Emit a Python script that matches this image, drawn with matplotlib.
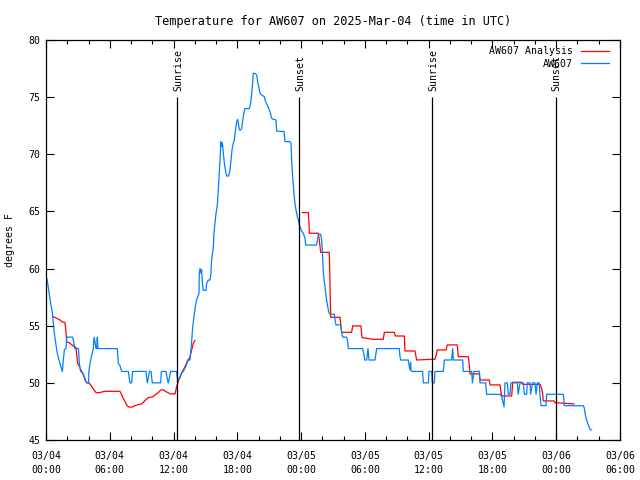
import numpy as np
import matplotlib
matplotlib.use("Agg")
import matplotlib.pyplot as plt

# hours since 2025-03-04 00:00 UTC
blue_hours = [0.10, 0.38, 0.60, 0.75, 0.91, 1.06, 1.25, 1.41, 1.54, 1.63, 1.73, 1.88, 1.95, 2.48, 2.57,
              2.70, 2.95, 3.05, 3.14, 3.25, 3.45, 3.60, 3.83, 4.01, 4.03, 4.14, 4.30, 4.45, 4.52, 4.61,
              4.70, 4.77, 4.83, 4.88, 6.71, 6.80, 6.96, 7.12, 7.74, 7.84, 7.90, 8.06, 8.15, 9.41, 9.53,
              9.62, 9.72, 9.88, 9.95, 10.00, 10.79, 10.85, 11.29, 11.40, 11.50, 11.60, 11.73, 12.29,
              12.35, 12.60, 12.75, 12.92, 13.23, 13.30, 13.55, 13.70, 13.80, 13.92, 14.05, 14.17, 14.39,
              14.42, 14.49, 14.58, 14.64, 14.71, 14.80, 15.05, 15.11, 15.27, 15.43, 15.52, 15.58, 15.74,
              15.80, 15.90, 15.99, 16.12, 16.21, 16.31, 16.37, 16.46, 16.53, 16.59, 16.68, 16.78, 16.90,
              17.00, 17.18, 17.31, 17.40, 17.50, 17.62, 17.72, 17.81, 17.94, 18.03, 18.13, 18.19, 18.31,
              18.41, 18.50, 18.63, 18.72, 19.13, 19.25, 19.35, 19.44, 19.50, 19.66, 19.82, 19.91, 20.01,
              20.13, 20.29, 20.54, 20.66, 20.82, 20.95, 21.07, 21.23, 21.39, 21.64, 21.70, 22.01, 22.39,
              22.48, 22.95, 23.05, 23.11, 23.20, 23.33, 23.42, 23.52, 23.64, 23.74, 23.83, 23.96, 24.08,
              24.21, 24.36, 24.43, 25.46, 25.53, 25.62, 25.84, 25.93, 26.00, 26.03, 26.09, 26.18, 26.25,
              26.31, 26.40, 26.50, 26.56, 26.65, 26.78, 27.12, 27.19, 27.28, 27.72, 27.81, 27.91, 28.29,
              28.38, 28.44, 29.79, 29.92, 29.98, 30.17, 30.29, 30.39, 30.95, 31.05, 31.11, 33.24, 33.30,
              33.37, 34.08, 34.15, 34.24, 34.30, 34.34, 34.40, 35.43, 35.50, 35.97, 36.03, 36.28, 36.34,
              36.53, 36.59, 37.38, 37.47, 38.16, 38.26, 38.32, 39.20, 39.26, 40.05, 40.11, 40.20, 40.26,
              40.77, 40.83, 41.36, 41.45, 42.71, 42.87, 43.09, 43.18, 43.40, 43.49, 43.65, 43.74, 44.34,
              44.43, 44.59, 44.90, 45.00, 45.22, 45.28, 45.53, 45.59, 45.78, 46.00, 46.10, 46.22, 46.41,
              46.47, 46.57, 47.04, 47.10, 48.67, 48.76, 50.55, 50.64, 50.77, 50.86, 50.96, 51.08, 51.18,
              51.33]
blue_temps = [59.1, 57.3, 56.1, 54.6, 53.5, 52.6, 51.9, 51.4, 51.0, 52.0, 52.9, 53.0, 54.0, 54.0, 53.75,
              53.0, 53.0, 53.0, 51.7, 51.0, 50.9, 50.5, 50.0, 50.0, 51.0, 51.7, 52.4, 53.0, 54.0, 53.6,
              53.0, 53.0, 54.0, 53.0, 53.0, 51.7, 51.5, 51.0, 51.0, 50.4, 50.0, 50.0, 51.0, 51.0, 50.0,
              50.4, 51.0, 51.0, 50.4, 50.0, 50.0, 51.0, 51.0, 50.4, 50.0, 50.4, 51.0, 51.0,
              50.4, 50.4, 50.9, 51.0, 51.6, 52.0, 52.0, 53.6, 54.9, 55.8, 56.7, 57.3, 57.8,
              59.6, 60.0, 59.6, 59.9, 58.7, 58.1, 58.1, 58.7, 59.0, 59.0, 59.6, 60.75, 61.9,
              63.1, 64.0, 64.8, 65.6, 66.9, 68.5, 69.5, 71.1, 70.7, 71.0, 70.1, 69.2, 68.5,
              68.1, 68.1, 68.6, 69.5, 70.4, 71.0, 71.25, 72.0, 72.85, 73.06, 72.56, 72.13, 72.13,
              72.27, 72.85, 73.73, 74.0, 74.0, 74.46, 75.33, 76.21, 77.08, 77.08, 76.94, 76.35, 75.92,
              75.33, 75.19, 75.04, 74.6, 74.31, 74.02, 73.73, 73.15, 73.06, 73.0, 72.04, 72.0, 72.0,
              71.11, 71.11, 71.0, 69.5, 68.04, 66.59, 65.71, 65.13, 64.54, 64.25, 63.81, 63.52, 63.23,
              63.09, 62.65, 62.06, 62.06, 62.5, 63.0, 63.0, 62.5, 61.63, 60.75, 59.59, 58.86, 58.42,
              57.84, 57.25, 56.67, 56.38, 56.09, 56.0, 56.0, 55.5, 55.07, 55.07, 54.48, 54.0, 54.0,
              53.61, 53.0, 53.0, 52.44, 52.0, 52.0, 53.0, 52.0, 52.0, 52.6, 53.0, 53.0, 52.3,
              52.0, 52.0, 51.57, 51.13, 51.8, 51.1, 51.0, 51.0, 50.0, 50.0, 51.0, 51.0, 50.0,
              50.0, 51.0, 51.0, 52.0, 52.0, 53.0, 52.0, 52.0, 51.0, 51.0, 50.0, 50.55, 51.0,
              51.0, 50.0, 50.0, 49.0, 49.0, 48.8, 47.9, 50.0, 50.0, 49.0, 49.0, 50.0, 50.0,
              49.0, 50.0, 50.0, 49.0, 49.0, 50.0, 50.0, 49.0, 50.0, 50.0, 49.0, 50.0, 50.0,
              49.0, 48.0, 48.0, 49.0, 49.0, 48.0, 48.0, 47.8, 47.05, 46.75, 46.46, 46.17, 45.94,
              45.88]

red_hours = [0.69, 1.00, 1.32, 1.47, 1.79, 1.88, 1.94, 2.26, 2.57, 2.82, 2.89, 2.98, 3.14, 3.36, 3.51,
             3.67, 3.83, 4.08, 4.30, 4.52, 4.70, 5.08, 5.24, 5.55, 6.96, 7.12, 7.27, 7.43, 7.59, 7.75,
             8.15, 8.37, 8.69, 9.00, 9.31, 9.63, 10.03, 10.25, 10.57, 10.79, 11.04, 11.35, 11.73, 12.14,
             12.29, 12.45, 12.61, 12.92, 13.23, 13.55, 13.70, 13.86, 14.02, np.nan,
             24.11, 24.68, 24.74, 24.77, 25.62, 25.71, 25.84, 26.65, 26.72, 26.78, 27.66, 27.75, 27.81,
             28.75, 28.85, 29.63, 29.73, 30.79, 31.73, 31.83, 32.77, 32.86, 33.71, 33.77, 34.71, 34.80,
             34.87, 36.28, 36.59, 36.75, 36.81, 37.63, 37.75, 38.69, 38.79, 39.73, 39.82, 39.89, 40.77,
             40.83, 41.71, 41.77, 42.71, 42.80, 42.87, 43.81, 43.91, 44.75, 44.85, 46.47, 46.63, 46.72,
             46.78, 47.79, 47.88, 49.67]
red_temps = [55.79, 55.65, 55.50, 55.36, 55.27, 54.48, 53.61, 53.46, 53.23, 53.11, 52.44, 51.71, 51.42,
             50.98, 50.69, 50.25, 50.02, 49.96, 49.67, 49.38, 49.15, 49.15, 49.20, 49.26, 49.26, 48.94,
             48.65, 48.36, 48.07, 47.89, 47.89, 48.01, 48.10, 48.15, 48.45, 48.71, 48.77, 48.94, 49.15,
             49.38, 49.38, 49.20, 49.03, 49.03, 49.67, 50.11, 50.55, 51.13, 51.71, 52.30, 52.88, 53.46,
             53.70, np.nan,
             64.9, 64.9, 64.0, 63.09, 63.09, 62.5, 61.42, 61.42, 58.57, 55.74, 55.74, 54.92, 54.42,
             54.42, 54.98, 54.98, 53.96, 53.81, 53.81, 54.42, 54.42, 54.10, 54.10, 52.79, 52.79, 52.35,
             52.0, 52.06, 52.06, 52.59, 52.88, 52.88, 53.32, 53.32, 52.29, 52.29, 51.57, 50.78, 50.78,
             50.25, 50.25, 49.82, 49.82, 49.23, 48.85, 48.85, 50.05, 50.05, 49.87, 49.87, 49.5, 49.09,
             48.42, 48.42, 48.27, 48.15]

sun_hours = [12.35, 23.83, 36.34, 47.95]
sun_names = ["Sunrise", "Sunset", "Sunrise", "Sunset"]

tick_hours = [0, 6, 12, 18, 24, 30, 36, 42, 48, 54]
tick_labels = ["03/04\n00:00", "03/04\n06:00", "03/04\n12:00", "03/04\n18:00", "03/05\n00:00",
               "03/05\n06:00", "03/05\n12:00", "03/05\n18:00", "03/06\n00:00", "03/06\n06:00"]

plt.rcParams["font.family"] = "DejaVu Sans Mono"
plt.rcParams["font.size"] = 7.1

fig = plt.figure(figsize=(6.4, 4.8), dpi=100)
ax = fig.add_axes([46 / 640, 40 / 480, 574 / 640, 400 / 480])

ax.plot(red_hours, red_temps, color="#ff0000", lw=0.9, label="AW607 Analysis")
ax.plot(blue_hours, blue_temps, color="#0080ff", lw=0.9, label="AW607")

for h, name in zip(sun_hours, sun_names):
    ax.vlines(h, 45, 75, color="black", lw=0.9)
    ax.text(h + 0.1, 75.5, name, rotation=90, ha="center", va="bottom")

ax.set_xlim(0, 54)
ax.set_ylim(45, 80)
ax.set_xticks(tick_hours)
ax.set_xticklabels(tick_labels, linespacing=1.45)
ax.set_xticks(np.arange(0, 55, 2), minor=True)
ax.set_yticks(np.arange(45, 81, 5))
ax.tick_params(which="both", direction="in", top=True, right=True, width=0.8)
ax.tick_params(which="major", length=6, pad=4)
ax.tick_params(axis="x", which="major", pad=8)
ax.tick_params(which="minor", length=3)
for s in ax.spines.values():
    s.set_linewidth(0.9)

ax.set_ylabel("degrees F", labelpad=10)
ax.set_title("Temperature for AW607 on 2025-Mar-04 (time in UTC)", pad=11)

leg = ax.legend(loc="upper right", bbox_to_anchor=(0.9913, 1.0), frameon=False, markerfirst=False,
                handlelength=2.8, handletextpad=0.8, labelspacing=0.25, borderaxespad=0.35,
                borderpad=0.3)
for col in leg._legend_handle_box.get_children():
    col.align = "right"

fig.savefig("out.png", dpi=100)
